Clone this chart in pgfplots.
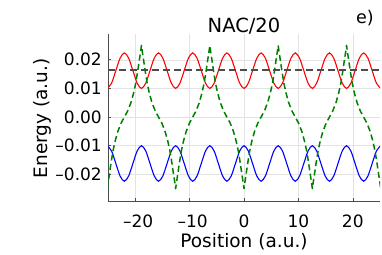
\documentclass[border=0pt]{standalone}
\usepackage{fontspec}
\setmainfont{DejaVu Sans}
\usepackage{pgfplots}
\pgfplotsset{compat=1.18}
\usepackage{pgfplotstable}

\pgfplotstableread{
x r b
-25.1327 0.01000 -0.01000
-24.3473 0.01182 -0.01182
-23.5619 0.01620 -0.01620
-22.7765 0.02058 -0.02058
-21.9911 0.02240 -0.02240
-21.2058 0.02058 -0.02058
-20.4204 0.01620 -0.01620
-19.6350 0.01182 -0.01182
-18.8496 0.01000 -0.01000
-18.0642 0.01182 -0.01182
-17.2788 0.01620 -0.01620
-16.4934 0.02058 -0.02058
-15.7080 0.02240 -0.02240
-14.9226 0.02058 -0.02058
-14.1372 0.01620 -0.01620
-13.3518 0.01182 -0.01182
-12.5664 0.01000 -0.01000
-11.7810 0.01182 -0.01182
-10.9956 0.01620 -0.01620
-10.2102 0.02058 -0.02058
-9.4248 0.02240 -0.02240
-8.6394 0.02058 -0.02058
-7.8540 0.01620 -0.01620
-7.0686 0.01182 -0.01182
-6.2832 0.01000 -0.01000
-5.4978 0.01182 -0.01182
-4.7124 0.01620 -0.01620
-3.9270 0.02058 -0.02058
-3.1416 0.02240 -0.02240
-2.3562 0.02058 -0.02058
-1.5708 0.01620 -0.01620
-0.7854 0.01182 -0.01182
0.0000 0.01000 -0.01000
0.7854 0.01182 -0.01182
1.5708 0.01620 -0.01620
2.3562 0.02058 -0.02058
3.1416 0.02240 -0.02240
3.9270 0.02058 -0.02058
4.7124 0.01620 -0.01620
5.4978 0.01182 -0.01182
6.2832 0.01000 -0.01000
7.0686 0.01182 -0.01182
7.8540 0.01620 -0.01620
8.6394 0.02058 -0.02058
9.4248 0.02240 -0.02240
10.2102 0.02058 -0.02058
10.9956 0.01620 -0.01620
11.7810 0.01182 -0.01182
12.5664 0.01000 -0.01000
13.3518 0.01182 -0.01182
14.1372 0.01620 -0.01620
14.9226 0.02058 -0.02058
15.7080 0.02240 -0.02240
16.4934 0.02058 -0.02058
17.2788 0.01620 -0.01620
18.0642 0.01182 -0.01182
18.8496 0.01000 -0.01000
19.6350 0.01182 -0.01182
20.4204 0.01620 -0.01620
21.2058 0.02058 -0.02058
21.9911 0.02240 -0.02240
22.7765 0.02058 -0.02058
23.5619 0.01620 -0.01620
24.3473 0.01182 -0.01182
25.1327 0.01000 -0.01000
}\energies

\pgfplotstableread{
x g
-25.1327 -0.0250
-24.9911 -0.0230
-24.7411 -0.0199
-24.4411 -0.0160
-24.0911 -0.0119
-23.6911 -0.0084
-23.1911 -0.0050
-22.5911 -0.0021
-21.9911 0.0000
-21.3911 0.0021
-20.7911 0.0050
-20.2911 0.0084
-19.8911 0.0119
-19.5411 0.0160
-19.2411 0.0199
-18.9911 0.0230
-18.8496 0.0250
-18.7080 0.0230
-18.4580 0.0199
-18.1580 0.0160
-17.8080 0.0119
-17.4080 0.0084
-16.9080 0.0050
-16.3080 0.0021
-15.7080 0.0000
-15.1080 -0.0021
-14.5080 -0.0050
-14.0080 -0.0084
-13.6080 -0.0119
-13.2580 -0.0160
-12.9580 -0.0199
-12.7080 -0.0230
-12.5664 -0.0250
-12.4248 -0.0230
-12.1748 -0.0199
-11.8748 -0.0160
-11.5248 -0.0119
-11.1248 -0.0084
-10.6248 -0.0050
-10.0248 -0.0021
-9.4248 0.0000
-8.8248 0.0021
-8.2248 0.0050
-7.7248 0.0084
-7.3248 0.0119
-6.9748 0.0160
-6.6748 0.0199
-6.4248 0.0230
-6.2832 0.0250
-6.1416 0.0230
-5.8916 0.0199
-5.5916 0.0160
-5.2416 0.0119
-4.8416 0.0084
-4.3416 0.0050
-3.7416 0.0021
-3.1416 0.0000
-2.5416 -0.0021
-1.9416 -0.0050
-1.4416 -0.0084
-1.0416 -0.0119
-0.6916 -0.0160
-0.3916 -0.0199
-0.1416 -0.0230
0.0000 -0.0250
0.1416 -0.0230
0.3916 -0.0199
0.6916 -0.0160
1.0416 -0.0119
1.4416 -0.0084
1.9416 -0.0050
2.5416 -0.0021
3.1416 0.0000
3.7416 0.0021
4.3416 0.0050
4.8416 0.0084
5.2416 0.0119
5.5916 0.0160
5.8916 0.0199
6.1416 0.0230
6.2832 0.0250
6.4248 0.0230
6.6748 0.0199
6.9748 0.0160
7.3248 0.0119
7.7248 0.0084
8.2248 0.0050
8.8248 0.0021
9.4248 0.0000
10.0248 -0.0021
10.6248 -0.0050
11.1248 -0.0084
11.5248 -0.0119
11.8748 -0.0160
12.1748 -0.0199
12.4248 -0.0230
12.5664 -0.0250
12.7080 -0.0230
12.9580 -0.0199
13.2580 -0.0160
13.6080 -0.0119
14.0080 -0.0084
14.5080 -0.0050
15.1080 -0.0021
15.7080 0.0000
16.3080 0.0021
16.9080 0.0050
17.4080 0.0084
17.8080 0.0119
18.1580 0.0160
18.4580 0.0199
18.7080 0.0230
18.8496 0.0250
18.9912 0.0230
19.2412 0.0199
19.5412 0.0160
19.8912 0.0119
20.2912 0.0084
20.7912 0.0050
21.3912 0.0021
21.9912 0.0000
22.5912 -0.0021
23.1912 -0.0050
23.6912 -0.0084
24.0912 -0.0119
24.4412 -0.0160
24.7412 -0.0199
24.9912 -0.0230
25.1327 -0.0250
}\nacdata

\begin{document}
\begin{tikzpicture}
\path[use as bounding box] (-108pt,-53pt) rectangle (274pt,201pt);
\begin{axis}[
  at={(0pt,0pt)}, anchor=south west,
  scale only axis, width=272pt, height=167pt,
  xmin=-25, xmax=25, ymin=-0.0293, ymax=0.0290,
  axis x line*=bottom, axis y line*=left,
  axis line style={black!70, line width=0.6pt, -},
  xtick={-20,-10,0,10,20},
  xticklabels={\kern6pt\textendash20,\kern6pt\textendash10,0,10,20},
  ytick={-0.02,-0.01,0,0.01,0.02},
  yticklabels={\textendash0.02,\textendash0.01,0.00,0.01,0.02},
  scaled y ticks=false, scaled x ticks=false,
  grid=major, grid style={black!11, line width=0.5pt},
  tick align=inside, major tick length=3pt, tick style={black!70, line width=0.6pt},
  ticklabel style={font=\fontsize{17}{20}\selectfont},
  xticklabel style={anchor=base, yshift=-26pt, inner sep=0pt},
  yticklabel style={anchor=east, inner sep=0pt, xshift=-6pt},
]
\addplot[red, line width=1.1pt, smooth] table[x=x, y=r] {\energies};
\addplot[blue, line width=1.1pt, smooth] table[x=x, y=b] {\energies};
\addplot[green!50!black, line width=1.5pt, line join=round, dash pattern=on 6pt off 3.5pt] table[x=x, y=g] {\nacdata};
\addplot[draw=black!70, line width=2pt, dash pattern=on 7pt off 4pt] coordinates {(-25,0.0166) (25,0.0166)};
\end{axis}
\node[anchor=base, inner sep=0pt, font=\fontsize{19.5}{22}\selectfont] at (136pt,168pt) {NAC/20};
\node[anchor=base west, inner sep=0pt, font=\fontsize{17.5}{20}\selectfont] at (248pt,177pt) {e)};
\node[anchor=base, inner sep=0pt, font=\fontsize{18.5}{22}\selectfont] at (136pt,-46.5pt) {Position (a.u.)};
\node[anchor=base, inner sep=0pt, rotate=90, font=\fontsize{18.5}{22}\selectfont] at (-60.5pt,82.7pt) {Energy (a.u.)};
\end{tikzpicture}
\end{document}
